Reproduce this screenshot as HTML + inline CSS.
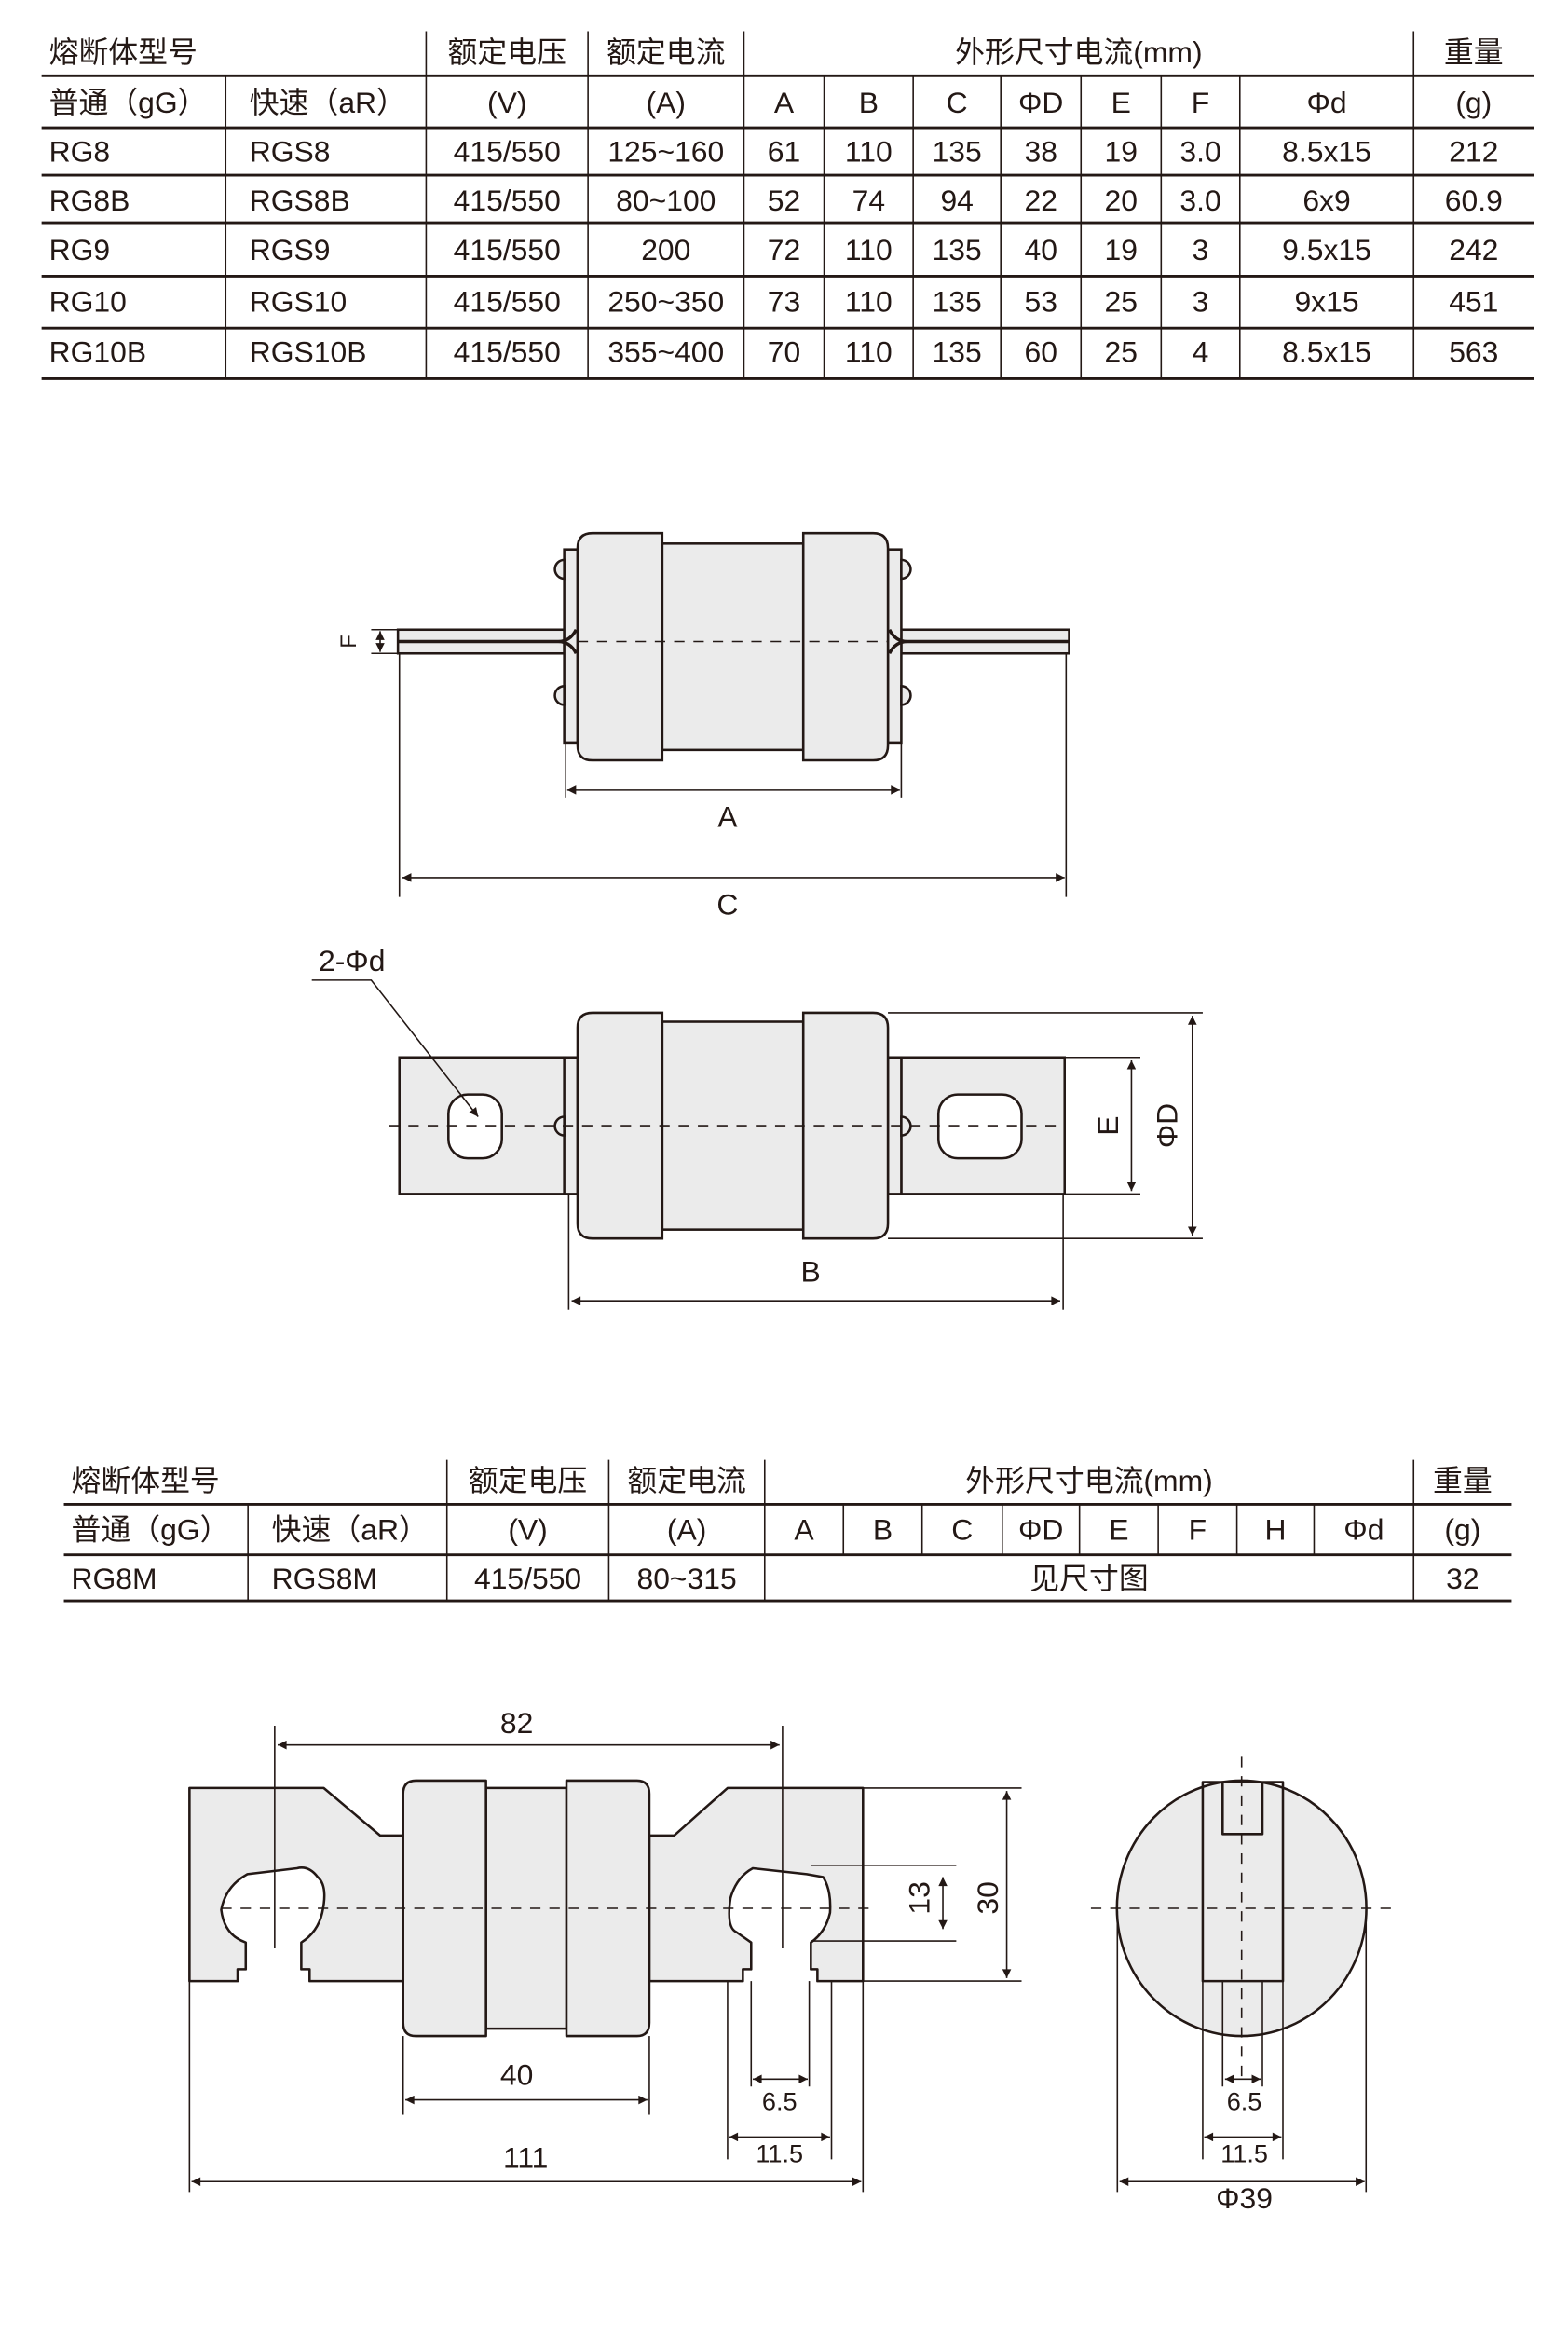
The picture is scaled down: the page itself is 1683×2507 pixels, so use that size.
<!DOCTYPE html>
<html><head><meta charset="utf-8"><style>
html,body{margin:0;padding:0;background:#fff;}
svg{display:block;}
text{font-family:"Liberation Sans","Noto Sans CJK SC",sans-serif;fill:#231815;}
</style></head><body>
<svg width="1683" height="2507" viewBox="0 0 1056 1573" preserveAspectRatio="none" xmlns="http://www.w3.org/2000/svg">
<defs>
<marker id="ar" viewBox="0 0 10 10" refX="10" refY="5" markerWidth="9" markerHeight="6" markerUnits="userSpaceOnUse" orient="auto-start-reverse"><path d="M0,0 L10,5 L0,10 z" fill="#231815"/></marker>
</defs>

<!-- TABLE 1 -->
<g stroke="#231815" fill="none">
<g stroke-width="1.8">
<line x1="28" y1="51" x2="1033" y2="51"/><line x1="28" y1="86" x2="1033" y2="86"/>
<line x1="28" y1="118" x2="1033" y2="118"/><line x1="28" y1="150" x2="1033" y2="150"/>
<line x1="28" y1="186" x2="1033" y2="186"/><line x1="28" y1="221" x2="1033" y2="221"/>
<line x1="28" y1="255" x2="1033" y2="255"/>
</g>
<g stroke-width="1">
<line x1="287" y1="21" x2="287" y2="255"/><line x1="396" y1="21" x2="396" y2="255"/>
<line x1="501" y1="21" x2="501" y2="255"/><line x1="952" y1="21" x2="952" y2="255"/>
<line x1="152" y1="51" x2="152" y2="255"/>
<line x1="555" y1="51" x2="555" y2="255"/><line x1="615" y1="51" x2="615" y2="255"/>
<line x1="674" y1="51" x2="674" y2="255"/><line x1="728" y1="51" x2="728" y2="255"/>
<line x1="782" y1="51" x2="782" y2="255"/><line x1="835" y1="51" x2="835" y2="255"/>
</g>
</g>
<g font-size="20" dominant-baseline="central">
<text x="33" y="35">熔断体型号</text>
<g text-anchor="middle"><text x="341.5" y="35">额定电压</text><text x="448.5" y="35">额定电流</text><text x="726.5" y="35">外形尺寸电流(mm)</text><text x="992.5" y="35">重量</text></g>
<text x="33" y="69">普通（gG）</text><text x="168" y="69">快速（aR）</text>
<g text-anchor="middle"><text x="341.5" y="69">(V)</text><text x="448.5" y="69">(A)</text><text x="528" y="69">A</text><text x="585" y="69">B</text><text x="644.5" y="69">C</text><text x="701" y="69">ΦD</text><text x="755" y="69">E</text><text x="808.5" y="69">F</text><text x="893.5" y="69">Φd</text><text x="992.5" y="69">(g)</text></g>
</g>
<g font-size="20" dominant-baseline="central">
<text x="33" y="102">RG8</text><text x="168" y="102">RGS8</text>
<text x="33" y="135">RG8B</text><text x="168" y="135">RGS8B</text>
<text x="33" y="168">RG9</text><text x="168" y="168">RGS9</text>
<text x="33" y="203">RG10</text><text x="168" y="203">RGS10</text>
<text x="33" y="237">RG10B</text><text x="168" y="237">RGS10B</text>
<g text-anchor="middle">
<text x="341.5" y="102">415/550</text><text x="448.5" y="102">125~160</text><text x="528" y="102">61</text><text x="585" y="102">110</text><text x="644.5" y="102">135</text><text x="701" y="102">38</text><text x="755" y="102">19</text><text x="808.5" y="102">3.0</text><text x="893.5" y="102">8.5x15</text><text x="992.5" y="102">212</text>
<text x="341.5" y="135">415/550</text><text x="448.5" y="135">80~100</text><text x="528" y="135">52</text><text x="585" y="135">74</text><text x="644.5" y="135">94</text><text x="701" y="135">22</text><text x="755" y="135">20</text><text x="808.5" y="135">3.0</text><text x="893.5" y="135">6x9</text><text x="992.5" y="135">60.9</text>
<text x="341.5" y="168">415/550</text><text x="448.5" y="168">200</text><text x="528" y="168">72</text><text x="585" y="168">110</text><text x="644.5" y="168">135</text><text x="701" y="168">40</text><text x="755" y="168">19</text><text x="808.5" y="168">3</text><text x="893.5" y="168">9.5x15</text><text x="992.5" y="168">242</text>
<text x="341.5" y="203">415/550</text><text x="448.5" y="203">250~350</text><text x="528" y="203">73</text><text x="585" y="203">110</text><text x="644.5" y="203">135</text><text x="701" y="203">53</text><text x="755" y="203">25</text><text x="808.5" y="203">3</text><text x="893.5" y="203">9x15</text><text x="992.5" y="203">451</text>
<text x="341.5" y="237">415/550</text><text x="448.5" y="237">355~400</text><text x="528" y="237">70</text><text x="585" y="237">110</text><text x="644.5" y="237">135</text><text x="701" y="237">60</text><text x="755" y="237">25</text><text x="808.5" y="237">4</text><text x="893.5" y="237">8.5x15</text><text x="992.5" y="237">563</text>
</g></g>

<!-- DRAWING 1 -->
<g stroke="#231815" stroke-width="1.6" fill="#ebebeb">
<rect x="268" y="424" width="112" height="16"/>
<rect x="607" y="424" width="113" height="16"/>
<rect x="380" y="370" width="9" height="130"/>
<rect x="598" y="370" width="9" height="130"/>
<path d="M380,377 a6.3,6.3 0 0 0 0,12.6 z"/>
<path d="M380,462 a6.3,6.3 0 0 0 0,12.6 z"/>
<path d="M607,377 a6.3,6.3 0 0 1 0,12.6 z"/>
<path d="M607,462 a6.3,6.3 0 0 1 0,12.6 z"/>
<rect x="446" y="366" width="95" height="139"/>
<path d="M446,359 H399 q-10,0 -10,10 V502 q0,10 10,10 H446 z"/>
<path d="M541,359 H588 q10,0 10,10 V502 q0,10 -10,10 H541 z"/>
</g>
<path d="M268,432 H376 q8,0 12,-8 M376,432 q8,0 12,8 M720,432 H611 q-8,0 -12,-8 M611,432 q-8,0 -12,8" stroke="#231815" stroke-width="2.2" fill="none"/>
<line x1="389" y1="432" x2="598" y2="432" stroke="#231815" stroke-width="1" stroke-dasharray="7,6"/>
<g stroke="#231815" stroke-width="1" fill="none">
<line x1="250" y1="424" x2="268" y2="424"/><line x1="250" y1="440" x2="268" y2="440"/>
<line x1="256" y1="425" x2="256" y2="439" marker-start="url(#ar)" marker-end="url(#ar)"/>
<line x1="381" y1="500" x2="381" y2="537"/><line x1="607" y1="500" x2="607" y2="537"/>
<line x1="382" y1="532" x2="606" y2="532" marker-start="url(#ar)" marker-end="url(#ar)"/>
<line x1="269" y1="440" x2="269" y2="604"/><line x1="718" y1="440" x2="718" y2="604"/>
<line x1="271" y1="591" x2="717" y2="591" marker-start="url(#ar)" marker-end="url(#ar)"/>
</g>
<g font-size="20" text-anchor="middle" dominant-baseline="central">
<text x="235" y="432" font-size="15" transform="rotate(-90 235 432)">F</text>
<text x="490" y="550">A</text><text x="490" y="609">C</text>
</g>

<!-- DRAWING 2 -->
<g stroke="#231815" stroke-width="1.6" fill="#ebebeb">
<rect x="269" y="712" width="112" height="92"/>
<rect x="607" y="712" width="110" height="92"/>
<rect x="380" y="712" width="9" height="92"/>
<rect x="598" y="712" width="9" height="92"/>
<path d="M380,752 a6.3,6.3 0 0 0 0,12.6 z"/>
<path d="M607,752 a6.3,6.3 0 0 1 0,12.6 z"/>
<rect x="446" y="688" width="95" height="140"/>
<path d="M446,682 H399 q-10,0 -10,10 V824 q0,10 10,10 H446 z"/>
<path d="M541,682 H588 q10,0 10,10 V824 q0,10 -10,10 H541 z"/>
<rect x="302" y="737" width="36" height="43" rx="13" fill="#fff"/>
<rect x="632" y="737" width="56" height="43" rx="13" fill="#fff"/>
</g>
<line x1="262" y1="758" x2="714" y2="758" stroke="#231815" stroke-width="1" stroke-dasharray="7,6"/>
<g stroke="#231815" stroke-width="1" fill="none">
<polyline points="210,660 250,660 322,752" marker-end="url(#ar)"/>
<line x1="717" y1="712" x2="768" y2="712"/><line x1="717" y1="804" x2="768" y2="804"/>
<line x1="762" y1="714" x2="762" y2="802" marker-start="url(#ar)" marker-end="url(#ar)"/>
<line x1="598" y1="682" x2="810" y2="682"/><line x1="598" y1="834" x2="810" y2="834"/>
<line x1="803" y1="684" x2="803" y2="832" marker-start="url(#ar)" marker-end="url(#ar)"/>
<line x1="383" y1="804" x2="383" y2="882"/><line x1="716" y1="804" x2="716" y2="882"/>
<line x1="385" y1="876" x2="714" y2="876" marker-start="url(#ar)" marker-end="url(#ar)"/>
</g>
<g font-size="20" text-anchor="middle" dominant-baseline="central">
<text x="237" y="647">2-Φd</text>
<text x="746" y="758" transform="rotate(-90 746 758)">E</text>
<text x="786" y="758" transform="rotate(-90 786 758)">ΦD</text>
<text x="546" y="856">B</text>
</g>

<!-- TABLE 2 -->
<g stroke="#231815" fill="none">
<g stroke-width="1.8">
<line x1="43" y1="1013" x2="1018" y2="1013"/><line x1="43" y1="1047" x2="1018" y2="1047"/><line x1="43" y1="1078" x2="1018" y2="1078"/>
</g>
<g stroke-width="1">
<line x1="301" y1="983" x2="301" y2="1078"/><line x1="410" y1="983" x2="410" y2="1078"/><line x1="515" y1="983" x2="515" y2="1078"/><line x1="952" y1="983" x2="952" y2="1078"/>
<line x1="167" y1="1013" x2="167" y2="1078"/>
<line x1="568" y1="1013" x2="568" y2="1047"/><line x1="621" y1="1013" x2="621" y2="1047"/><line x1="675" y1="1013" x2="675" y2="1047"/><line x1="727" y1="1013" x2="727" y2="1047"/><line x1="780" y1="1013" x2="780" y2="1047"/><line x1="833" y1="1013" x2="833" y2="1047"/><line x1="885" y1="1013" x2="885" y2="1047"/>
</g></g>
<g font-size="20" dominant-baseline="central">
<text x="48" y="997">熔断体型号</text>
<text x="48" y="1030">普通（gG）</text><text x="183" y="1030">快速（aR）</text>
<text x="48" y="1063">RG8M</text><text x="183" y="1063">RGS8M</text>
<g text-anchor="middle">
<text x="355.5" y="997">额定电压</text><text x="462.5" y="997">额定电流</text><text x="733.5" y="997">外形尺寸电流(mm)</text><text x="985" y="997">重量</text>
<text x="355.5" y="1030">(V)</text><text x="462.5" y="1030">(A)</text><text x="541.5" y="1030">A</text><text x="594.5" y="1030">B</text><text x="648" y="1030">C</text><text x="701" y="1030">ΦD</text><text x="753.5" y="1030">E</text><text x="806.5" y="1030">F</text><text x="859" y="1030">H</text><text x="918.5" y="1030">Φd</text><text x="985" y="1030">(g)</text>
<text x="355.5" y="1063">415/550</text><text x="462.5" y="1063">80~315</text><text x="733.5" y="1063">见尺寸图</text><text x="985" y="1063">32</text>
</g></g>

<!-- DRAWING 3 -->
<g stroke="#231815" stroke-width="1.6" fill="#ebebeb" stroke-linejoin="round">
<path d="M127.6,1204 H218 L256,1236 H271.5 V1334 H208.5 V1326 H202.9 V1308 Q214,1301 217,1288 Q221,1270 214,1264 Q208,1256 200,1258 L166.6,1262 Q152,1270 149,1286 Q151,1303 165.5,1308 V1326 H160 V1334 H127.6 Z"/>
<path d="M437.3,1236 H454 L490,1204 H581.2 V1334 H550.5 V1326 H546.1 V1308 Q556,1301 559,1288 Q560,1273 554.4,1264 L543.3,1262 L507,1258 Q496,1264 492,1278 Q489,1298 495.9,1301 L505.9,1308 V1326 H500.3 V1334 H437.3 Z"/>
<rect x="327.3" y="1204" width="54.2" height="162"/>
<path d="M327.3,1199 H280 q-8.5,0 -8.5,9 V1362 q0,9 8.5,9 H327.3 Z"/>
<path d="M381.5,1199 H429 q8.3,0 8.3,9 V1362 q0,9 -8.3,9 H381.5 Z"/>
<ellipse cx="836.2" cy="1285" rx="84" ry="86"/>
<rect x="810" y="1200" width="54" height="134" fill="none"/>
<polyline points="823.4,1200 823.4,1235 850.2,1235 850.2,1200" fill="none"/>
</g>
<g stroke="#231815" stroke-width="1" fill="none">
<line x1="149" y1="1285" x2="590" y2="1285" stroke-dasharray="7,6"/>
<line x1="734.7" y1="1285" x2="939.5" y2="1285" stroke-dasharray="7,6"/>
<line x1="836.2" y1="1183" x2="836.2" y2="1400" stroke-dasharray="7,6"/>
<line x1="185" y1="1162" x2="185" y2="1312"/><line x1="527" y1="1162" x2="527" y2="1312"/>
<line x1="187" y1="1175" x2="525" y2="1175" marker-start="url(#ar)" marker-end="url(#ar)"/>
<line x1="581" y1="1204" x2="688" y2="1204"/><line x1="581" y1="1334" x2="688" y2="1334"/>
<line x1="678" y1="1206" x2="678" y2="1332" marker-start="url(#ar)" marker-end="url(#ar)"/>
<line x1="546" y1="1256" x2="644" y2="1256"/><line x1="546" y1="1307" x2="644" y2="1307"/>
<line x1="635" y1="1264" x2="635" y2="1299" marker-start="url(#ar)" marker-end="url(#ar)"/>
<line x1="271.5" y1="1371" x2="271.5" y2="1424"/><line x1="437.3" y1="1371" x2="437.3" y2="1424"/>
<line x1="273" y1="1414" x2="436" y2="1414" marker-start="url(#ar)" marker-end="url(#ar)"/>
<line x1="505.9" y1="1334" x2="505.9" y2="1405"/><line x1="545" y1="1334" x2="545" y2="1405"/>
<line x1="507" y1="1400" x2="544" y2="1400" marker-start="url(#ar)" marker-end="url(#ar)"/>
<line x1="490" y1="1334" x2="490" y2="1454"/><line x1="560" y1="1334" x2="560" y2="1454"/>
<line x1="491" y1="1439" x2="559" y2="1439" marker-start="url(#ar)" marker-end="url(#ar)"/>
<line x1="127.6" y1="1334" x2="127.6" y2="1476"/><line x1="581.2" y1="1334" x2="581.2" y2="1476"/>
<line x1="129" y1="1469" x2="580" y2="1469" marker-start="url(#ar)" marker-end="url(#ar)"/>
<line x1="823.4" y1="1334" x2="823.4" y2="1405"/><line x1="850.2" y1="1334" x2="850.2" y2="1405"/>
<line x1="825" y1="1400" x2="849" y2="1400" marker-start="url(#ar)" marker-end="url(#ar)"/>
<line x1="810" y1="1334" x2="810" y2="1454"/><line x1="864" y1="1334" x2="864" y2="1454"/>
<line x1="811" y1="1439" x2="863" y2="1439" marker-start="url(#ar)" marker-end="url(#ar)"/>
<line x1="752.5" y1="1287" x2="752.5" y2="1476"/><line x1="920" y1="1287" x2="920" y2="1476"/>
<line x1="754" y1="1469" x2="919" y2="1469" marker-start="url(#ar)" marker-end="url(#ar)"/>
</g>
<g font-size="20" text-anchor="middle" dominant-baseline="central">
<text x="348" y="1160">82</text>
<text x="665" y="1278" transform="rotate(-90 665 1278)">30</text>
<text x="619" y="1278" transform="rotate(-90 619 1278)">13</text>
<text x="348" y="1397">40</text>
<text x="354" y="1453">111</text>
<text x="525" y="1415" font-size="17">6.5</text>
<text x="525" y="1450" font-size="17">11.5</text>
<text x="838" y="1415" font-size="17">6.5</text>
<text x="838" y="1450" font-size="17">11.5</text>
<text x="838" y="1480">Φ39</text>
</g>
</svg>
</body></html>
